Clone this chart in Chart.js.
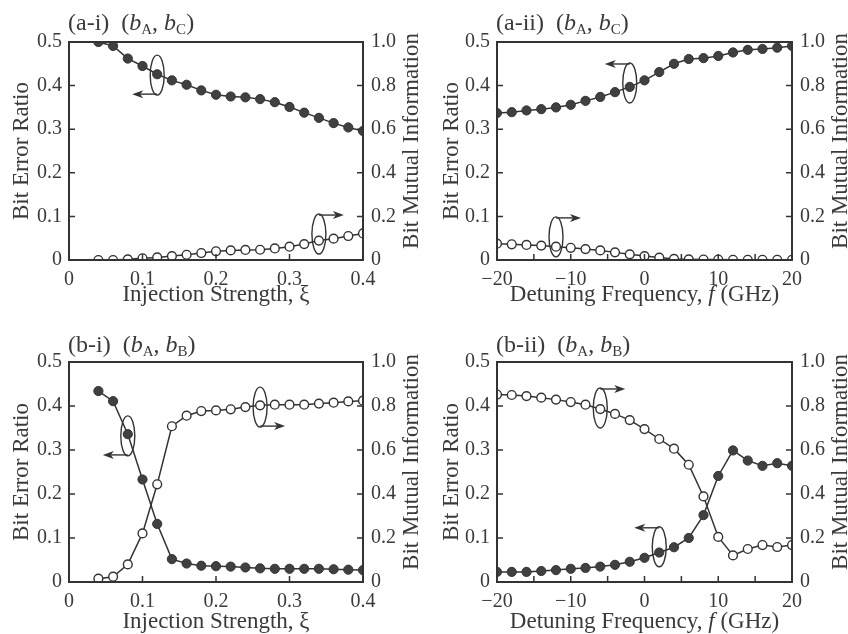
<!DOCTYPE html>
<html>
<head>
<meta charset="utf-8">
<script src="https://cdn.jsdelivr.net/npm/chart.js@4.4.1/dist/chart.umd.min.js"></script>
<style>
  html, body { margin: 0; padding: 0; background: #ffffff; }
  body { width: 848px; height: 634px; position: relative; overflow: hidden; }
  .panel { position: absolute; width: 424px; height: 317px; }
  canvas { display: block; }
</style>
</head>
<body>
<div class="panel" style="left:0;top:0"><canvas id="c0" width="424" height="317"></canvas></div>
<div class="panel" style="left:424px;top:0"><canvas id="c1" width="424" height="317"></canvas></div>
<div class="panel" style="left:0;top:317px"><canvas id="c2" width="424" height="317"></canvas></div>
<div class="panel" style="left:424px;top:317px"><canvas id="c3" width="424" height="317"></canvas></div>
<script>
// ---------------- data ----------------
const xiValues = [0.04, 0.06, 0.08, 0.10, 0.12, 0.14, 0.16, 0.18, 0.20, 0.22, 0.24, 0.26, 0.28, 0.30, 0.32, 0.34, 0.36, 0.38, 0.40];
const detuningValues = [-20, -18, -16, -14, -12, -10, -8, -6, -4, -2, 0, 2, 4, 6, 8, 10, 12, 14, 16, 18, 20];

// (a-i) (bA, bC) vs injection strength
const berAiXi = [0.500, 0.491, 0.462, 0.445, 0.426, 0.412, 0.402, 0.389, 0.379, 0.375, 0.373, 0.369, 0.362, 0.351, 0.338, 0.326, 0.314, 0.304, 0.296];
const bmiAiXi = [0.000, 0.000, 0.003, 0.008, 0.012, 0.018, 0.024, 0.032, 0.040, 0.044, 0.046, 0.047, 0.053, 0.061, 0.073, 0.089, 0.098, 0.110, 0.122];
// (a-ii) (bA, bC) vs detuning
const berAiiF = [0.337, 0.339, 0.343, 0.346, 0.350, 0.356, 0.365, 0.374, 0.385, 0.397, 0.412, 0.431, 0.450, 0.461, 0.463, 0.468, 0.476, 0.482, 0.484, 0.487, 0.491];
const bmiAiiF = [0.075, 0.072, 0.069, 0.066, 0.061, 0.056, 0.050, 0.044, 0.035, 0.026, 0.018, 0.011, 0.005, 0.003, 0.002, 0.002, 0.001, 0.001, 0.001, 0.001, 0.001];
// (b-i) (bA, bB) vs injection strength
const berBiXi = [0.434, 0.411, 0.336, 0.233, 0.132, 0.052, 0.042, 0.037, 0.036, 0.035, 0.033, 0.031, 0.030, 0.030, 0.030, 0.030, 0.029, 0.028, 0.027];
const bmiBiXi = [0.015, 0.024, 0.080, 0.221, 0.444, 0.708, 0.756, 0.777, 0.780, 0.785, 0.795, 0.803, 0.806, 0.806, 0.806, 0.811, 0.815, 0.821, 0.824];
// (b-ii) (bA, bB) vs detuning
const berBiiF = [0.023, 0.023, 0.023, 0.025, 0.027, 0.030, 0.032, 0.035, 0.039, 0.046, 0.055, 0.067, 0.079, 0.100, 0.152, 0.241, 0.299, 0.276, 0.264, 0.270, 0.264];
const bmiBiiF = [0.852, 0.850, 0.845, 0.838, 0.829, 0.818, 0.806, 0.786, 0.764, 0.736, 0.695, 0.650, 0.606, 0.533, 0.389, 0.205, 0.121, 0.150, 0.168, 0.159, 0.168];

// tick labels
const berTickLabels = ['0', '0.1', '0.2', '0.3', '0.4', '0.5'];
const bmiTickLabels = ['0', '0.2', '0.4', '0.6', '0.8', '1.0'];
const xiTickLabels = ['0', '0.1', '0.2', '0.3', '0.4'];
const fTickLabels = ['\u221220', '\u221210', '0', '10', '20'];

// ---------------- styling ----------------
const FONT = '"Liberation Serif", "Times New Roman", "DejaVu Serif", serif';
const INK = '#333333';
const TXT = '#3a3a3a';

const xAxes = {
  xi: { min: 0, max: 0.4, step: 0.1, labels: xiTickLabels, labelEvery: 1,
        title: [{ t: 'Injection Strength, \u03be' }] },
  f:  { min: -20, max: 20, step: 5, labels: fTickLabels, labelEvery: 2,
        title: [{ t: 'Detuning Frequency, ' }, { t: 'f', it: true }, { t: ' (GHz)' }] }
};

const panels = [
  { id: 'c0', tag: '(a-i)', pair: ['A', 'C'], axis: 'xi', xs: xiValues, ber: berAiXi, bmi: bmiAiXi,
    box: { left: 69, right: 363, top: 42, bottom: 260 }, titleY: 30, xTitleY: 301, yTitleX: 28, y2TitleX: 418,
    notes: [ { x: 0.12, y: 0.424, axis: 'yL', side: 'bottom', dir: -1 },
             { x: 0.34, y: 0.119, axis: 'yR', side: 'top', dir: 1 } ] },
  { id: 'c1', tag: '(a-ii)', pair: ['A', 'C'], axis: 'f', xs: detuningValues, ber: berAiiF, bmi: bmiAiiF,
    box: { left: 73, right: 368, top: 42, bottom: 260 }, titleY: 30, xTitleY: 301, yTitleX: 34, y2TitleX: 423,
    notes: [ { x: -2, y: 0.406, axis: 'yL', side: 'top', dir: -1 },
             { x: -12, y: 0.106, axis: 'yR', side: 'top', dir: 1 } ] },
  { id: 'c2', tag: '(b-i)', pair: ['A', 'B'], axis: 'xi', xs: xiValues, ber: berBiXi, bmi: bmiBiXi,
    box: { left: 69, right: 363, top: 45, bottom: 265 }, titleY: 35, xTitleY: 311, yTitleX: 28, y2TitleX: 418,
    notes: [ { x: 0.08, y: 0.332, axis: 'yL', side: 'bottom', dir: -1 },
             { x: 0.26, y: 0.795, axis: 'yR', side: 'bottom', dir: 1 } ] },
  { id: 'c3', tag: '(b-ii)', pair: ['A', 'B'], axis: 'f', xs: detuningValues, ber: berBiiF, bmi: bmiBiiF,
    box: { left: 73, right: 368, top: 45, bottom: 265 }, titleY: 35, xTitleY: 311, yTitleX: 34, y2TitleX: 423,
    notes: [ { x: -6, y: 0.791, axis: 'yR', side: 'top', dir: 1 },
             { x: 2, y: 0.080, axis: 'yL', side: 'top', dir: -1 } ] }
];

function fontStr(r, size) {
  return (r.it ? 'italic ' : '') + size + 'px ' + FONT;
}
function drawRuns(ctx, runs, x, y, size, align) {
  let total = 0;
  runs.forEach(r => {
    r.sz = r.sub ? Math.round(size * 0.62) : size;
    ctx.font = fontStr(r, r.sz);
    r.w = ctx.measureText(r.t).width;
    total += r.w;
  });
  let cx = align === 'center' ? x - total / 2 : x;
  ctx.textAlign = 'left';
  ctx.textBaseline = 'alphabetic';
  runs.forEach(r => {
    ctx.font = fontStr(r, r.sz);
    ctx.fillText(r.t, cx, y + (r.sub ? 4 : 0));
    cx += r.w;
  });
}

const decorPlugin = {
  id: 'decor',
  afterDatasetsDraw(chart, args, opts) {
    const p = opts.panel;
    const ctx = chart.ctx;
    const a = chart.chartArea;
    const sx = chart.scales.x, yL = chart.scales.yL, yR = chart.scales.yR;
    ctx.save();
    // inward ticks
    ctx.strokeStyle = INK;
    ctx.lineWidth = 1.5;
    ctx.beginPath();
    sx.ticks.forEach(t => {
      const px = sx.getPixelForValue(t.value);
      ctx.moveTo(px, a.bottom); ctx.lineTo(px, a.bottom - 6);
    });
    yL.ticks.forEach(t => {
      const py = yL.getPixelForValue(t.value);
      ctx.moveTo(a.left, py); ctx.lineTo(a.left + 6, py);
    });
    yR.ticks.forEach(t => {
      const py = yR.getPixelForValue(t.value);
      ctx.moveTo(a.right, py); ctx.lineTo(a.right - 6, py);
    });
    ctx.stroke();
    // frame
    ctx.lineWidth = 2;
    ctx.strokeRect(a.left, a.top, a.right - a.left, a.bottom - a.top);

    // annotations: ellipse + arrow
    ctx.lineWidth = 1.4;
    ctx.fillStyle = INK;
    p.notes.forEach(n => {
      const ys = n.axis === 'yL' ? yL : yR;
      const cx = sx.getPixelForValue(n.x);
      const cy = ys.getPixelForValue(n.y);
      const rx = 7, ry = 20;
      ctx.beginPath();
      ctx.ellipse(cx, cy, rx, ry, 0, 0, Math.PI * 2);
      ctx.stroke();
      const ay = n.side === 'top' ? cy - ry + 1 : cy + ry - 1;
      const tipX = cx + n.dir * 25;
      ctx.beginPath();
      ctx.moveTo(cx, ay);
      ctx.lineTo(tipX - n.dir * 8, ay);
      ctx.stroke();
      ctx.beginPath();
      ctx.moveTo(tipX, ay);
      ctx.lineTo(tipX - n.dir * 11, ay - 4);
      ctx.lineTo(tipX - n.dir * 8, ay);
      ctx.lineTo(tipX - n.dir * 11, ay + 4);
      ctx.closePath();
      ctx.fill();
    });

    // texts
    ctx.fillStyle = TXT;
    drawRuns(ctx, [
      { t: p.tag + '  (' }, { t: 'b', it: true }, { t: p.pair[0], sub: true }, { t: ', ' },
      { t: 'b', it: true }, { t: p.pair[1], sub: true }, { t: ')' }
    ], a.left - 1, p.titleY, 24, 'left');

    const xa = xAxes[p.axis];
    drawRuns(ctx, xa.title.map(r => Object.assign({}, r)), (a.left + a.right) / 2, p.xTitleY, 23, 'center');

    const midY = (a.top + a.bottom) / 2;
    ctx.save();
    ctx.translate(p.yTitleX, midY);
    ctx.rotate(-Math.PI / 2);
    drawRuns(ctx, [{ t: 'Bit Error Ratio' }], 0, 0, 23, 'center');
    ctx.restore();
    ctx.save();
    ctx.translate(p.y2TitleX, midY - 10);
    ctx.rotate(-Math.PI / 2);
    drawRuns(ctx, [{ t: 'Bit Mutual Information' }], 0, 0, 23, 'center');
    ctx.restore();

    ctx.restore();
  }
};

function makeChart(p) {
  const xa = xAxes[p.axis];
  const W = 424, H = 317;
  const berPts = p.xs.map((x, i) => ({ x: x, y: p.ber[i] }));
  const bmiPts = p.xs.map((x, i) => ({ x: x, y: p.bmi[i] }));
  const tickFont = { family: FONT, size: 20 };
  const noGrid = { display: false, drawTicks: false, tickLength: 0 };
  new Chart(document.getElementById(p.id), {
    type: 'line',
    data: {
      datasets: [
        { label: 'Bit Error Ratio', data: berPts, yAxisID: 'yL',
          borderColor: INK, borderWidth: 1.5, pointRadius: 4.6, pointBorderWidth: 1,
          pointBackgroundColor: '#404040', pointBorderColor: '#333333', tension: 0 },
        { label: 'Bit Mutual Information', data: bmiPts, yAxisID: 'yR',
          borderColor: INK, borderWidth: 1.5, pointRadius: 4.4, pointBorderWidth: 1.4,
          pointBackgroundColor: '#ffffff', pointBorderColor: '#333333', tension: 0 }
      ]
    },
    options: {
      responsive: false,
      animation: false,
      devicePixelRatio: 1,
      layout: { padding: { top: p.box.top, left: 0, right: 0, bottom: 0 } },
      plugins: { legend: { display: false }, tooltip: { enabled: false }, decor: { panel: p } },
      scales: {
        x: {
          type: 'linear', min: xa.min, max: xa.max,
          grid: noGrid, border: { display: false },
          ticks: {
            stepSize: xa.step, autoSkip: false, maxRotation: 0, padding: 8,
            color: TXT, font: tickFont,
            callback: (v, i) => (i % xa.labelEvery === 0 ? xa.labels[i / xa.labelEvery] : '')
          },
          afterFit: s => { s.height = H - p.box.bottom; }
        },
        yL: {
          type: 'linear', position: 'left', min: 0, max: 0.5,
          grid: noGrid, border: { display: false },
          ticks: { stepSize: 0.1, padding: 7, color: TXT, font: tickFont,
                   callback: (v, i) => berTickLabels[i] },
          afterFit: s => { s.width = p.box.left; }
        },
        yR: {
          type: 'linear', position: 'right', min: 0, max: 1,
          grid: noGrid, border: { display: false },
          ticks: { stepSize: 0.2, padding: 8, color: TXT, font: tickFont,
                   callback: (v, i) => bmiTickLabels[i] },
          afterFit: s => { s.width = W - p.box.right; }
        }
      }
    },
    plugins: [decorPlugin]
  });
}

panels.forEach(makeChart);
</script>
</body>
</html>
